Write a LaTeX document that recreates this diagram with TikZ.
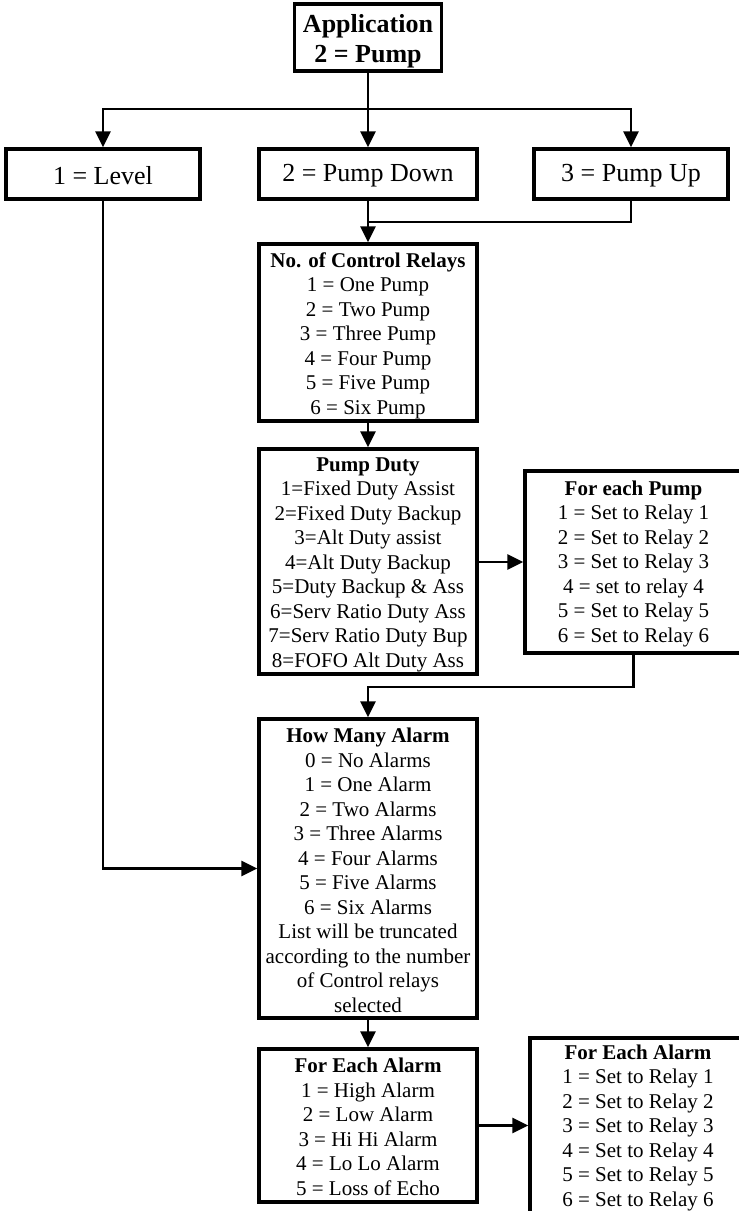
\documentclass[tikz,border=0pt]{standalone}
\usepackage{fontspec}
\setmainfont{Liberation Serif}
\usetikzlibrary{arrows.meta}
\tikzset{
  box/.style={draw, line width=3.4pt, inner sep=0pt, fill=white},
  txt/.style={inner sep=0pt, align=center, font=\fontsize{21}{24.5}\selectfont},
  bigtxt/.style={txt, font=\fontsize{26}{30}\selectfont},
  conn/.style={line width=2.9pt, line join=miter, -{Triangle[length=16pt,width=15pt]}},
  plain/.style={line width=2.9pt, line join=miter},
}
\begin{document}
\begin{tikzpicture}[x=1pt,y=-1pt]
\useasboundingbox (0,0) rectangle (739,1211);
% boxes
\node[box, minimum width=147pt, minimum height=67pt] (app) at (368,37.5) {};
\node[box, minimum width=194pt, minimum height=50pt] (level) at (103,174) {};
\node[box, minimum width=218pt, minimum height=50pt] (down) at (368,174) {};
\node[box, minimum width=194pt, minimum height=50pt] (up) at (631,174) {};
\node[box, minimum width=218pt, minimum height=177pt] (relays) at (368,332.5) {};
\node[box, minimum width=218pt, minimum height=225pt] (duty) at (368,561.5) {};
\node[box, minimum width=217pt, minimum height=182pt] (eachpump) at (633.5,562) {};
\node[box, minimum width=218pt, minimum height=299pt] (howmany) at (368,868.5) {};
\node[box, minimum width=218pt, minimum height=153pt] (foreach) at (368,1125.5) {};
\node[box, minimum width=216pt, minimum height=175pt] (relayalarm) at (638,1125.5) {};
% texts
\node[bigtxt] (app-t) at ([yshift=-4pt]app.center) {\textbf{Application}\\\textbf{2 = Pump}};
\node[bigtxt] (level-t) at ([yshift=-2pt]level.center) {1 = Level};
\node[bigtxt] (down-t) at ([yshift=-2pt]down.center) {2 = Pump Down};
\node[bigtxt] (up-t) at ([yshift=-2pt]up.center) {3 = Pump Up};
\node[txt] (relays-t) at ([yshift=-3pt]relays.center)
  {\textbf{No. of Control Relays}\\1 = One Pump\\2 = Two Pump\\3 = Three Pump\\4 = Four Pump\\5 = Five Pump\\6 = Six Pump};
\node[txt] (duty-t) at ([yshift=-3pt]duty.center)
  {\textbf{Pump Duty}\\1=Fixed Duty Assist\\2=Fixed Duty Backup\\3=Alt Duty assist\\4=Alt Duty Backup\\5=Duty Backup \& Ass\\6=Serv Ratio Duty Ass\\7=Serv Ratio Duty Bup\\8=FOFO Alt Duty Ass};
\node[txt] (eachpump-t) at ([yshift=-1.5pt]eachpump.center)
  {\textbf{For each Pump}\\1 = Set to Relay 1\\2 = Set to Relay 2\\3 = Set to Relay 3\\4 = set to relay 4\\5 = Set to Relay 5\\6 = Set to Relay 6};
\node[txt] (howmany-t) at ([yshift=-2pt]howmany.center)
  {\textbf{How Many Alarm}\\0 = No Alarms\\1 = One Alarm\\2 = Two Alarms\\3 = Three Alarms\\4 = Four Alarms\\5 = Five Alarms\\6 = Six Alarms\\List will be truncated\\according to the number\\of Control relays\\selected};
\node[txt] (foreach-t) at ([yshift=-1.5pt]foreach.center)
  {\textbf{For Each Alarm}\\1 = High Alarm\\2 = Low Alarm\\3 = Hi Hi Alarm\\4 = Lo Lo Alarm\\5 = Loss of Echo};
\node[txt] (relayalarm-t) at ([yshift=-2pt]relayalarm.center)
  {\textbf{For Each Alarm}\\1 = Set to Relay 1\\2 = Set to Relay 2\\3 = Set to Relay 3\\4 = Set to Relay 4\\5 = Set to Relay 5\\6 = Set to Relay 6};
% connectors
\coordinate (b1) at (368,109);
\coordinate (b2) at (368,222);
\coordinate (b3) at (368,687);
\draw[conn] (app.south) -- (down.north);
\draw[conn] (b1) -| (level.north);
\draw[conn] (b1) -| (up.north);
\draw[conn] (down.south) -- (relays.north);
\draw[plain] (up.south) |- (b2);
\draw[conn] (relays.south) -- (duty.north);
\draw[conn] (duty.east |- eachpump.west) -- (eachpump.west);
\draw[conn] (eachpump.south) |- (b3) -- (howmany.north);
\draw[conn] (level.south) |- (howmany.west);
\draw[conn] (howmany.south) -- (foreach.north);
\draw[conn] (foreach.east) -- (relayalarm.west |- foreach.east);
\end{tikzpicture}
\end{document}
